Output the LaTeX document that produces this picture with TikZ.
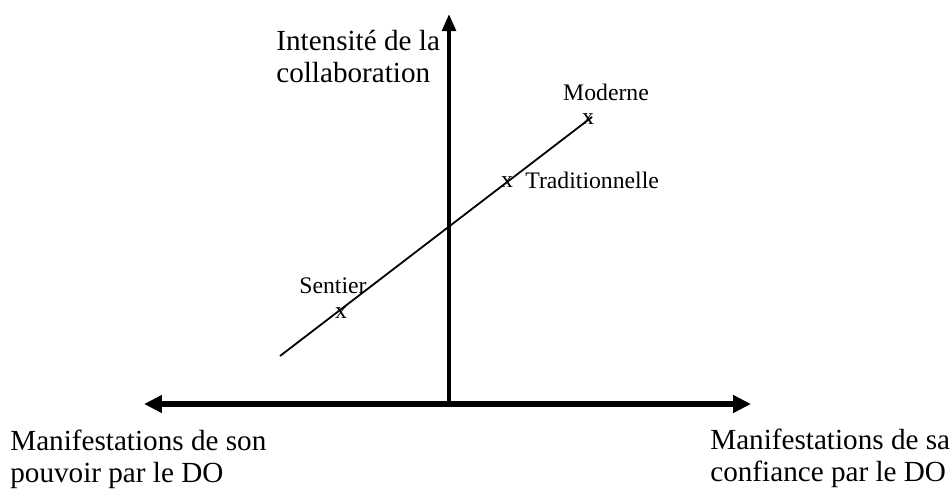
\documentclass[tikz,border=0pt]{standalone}
\usepackage{fontspec}
\setmainfont{Liberation Serif}
\usetikzlibrary{arrows.meta}
\tikzset{
  axislabel/.style={
    align=left, anchor=base west, inner sep=0pt,
    font=\fontsize{16.6}{17.8}\selectfont
  },
  ptlabel/.style={inner sep=0pt, font=\fontsize{13.5}{15}\selectfont},
  ptmark/.style={inner sep=0pt, font=\fontsize{13.5}{15}\selectfont},
  haxis/.style={line width=0.11cm,
    {Triangle[length=0.36cm,width=0.34cm]}-{Triangle[length=0.36cm,width=0.34cm]}},
  vaxis/.style={line width=0.08cm, -{Triangle[length=0.34cm,width=0.27cm]}},
  trend/.style={line width=0.036cm}
}

\begin{document}
\begin{tikzpicture}[x=0.02cm, y=-0.02cm]
  \useasboundingbox (0,0) rectangle (952,498);

  % axes
  \coordinate (west)   at (144,404);
  \coordinate (east)   at (751,404);
  \coordinate (origin) at (449,404);
  \coordinate (north)  at (449,14);
  \draw[haxis] (west) -- (east);
  \draw[vaxis] (origin) -- (north);

  % base = baseline of the last line
  \node[axislabel] (ylab) at (276,82) {Intensit\'e de la\\collaboration};
  \node[axislabel] (xlabl) at (10,482) {Manifestations de son\\pouvoir par le DO};
  \node[axislabel] (xlabr) at (710,481) {Manifestations de sa\\confiance par le DO};

  % trend line
  \coordinate (low)  at (280,356);
  \coordinate (high) at (592,117);
  \draw[trend] (low) -- (high);

  \node[ptmark] (xmod)  at (588,119) {x};
  \node[ptmark] (xtrad) at (507,182) {x};
  \node[ptmark] (xsent) at (341,313) {x};

  \node[ptlabel, anchor=base]      (mod)  at (606,100) {Moderne};
  \node[ptlabel, anchor=base west] (trad) at (525,188) {Traditionnelle};
  \node[ptlabel, anchor=base]      (sent) at (333,293) {Sentier};
\end{tikzpicture}
\end{document}
